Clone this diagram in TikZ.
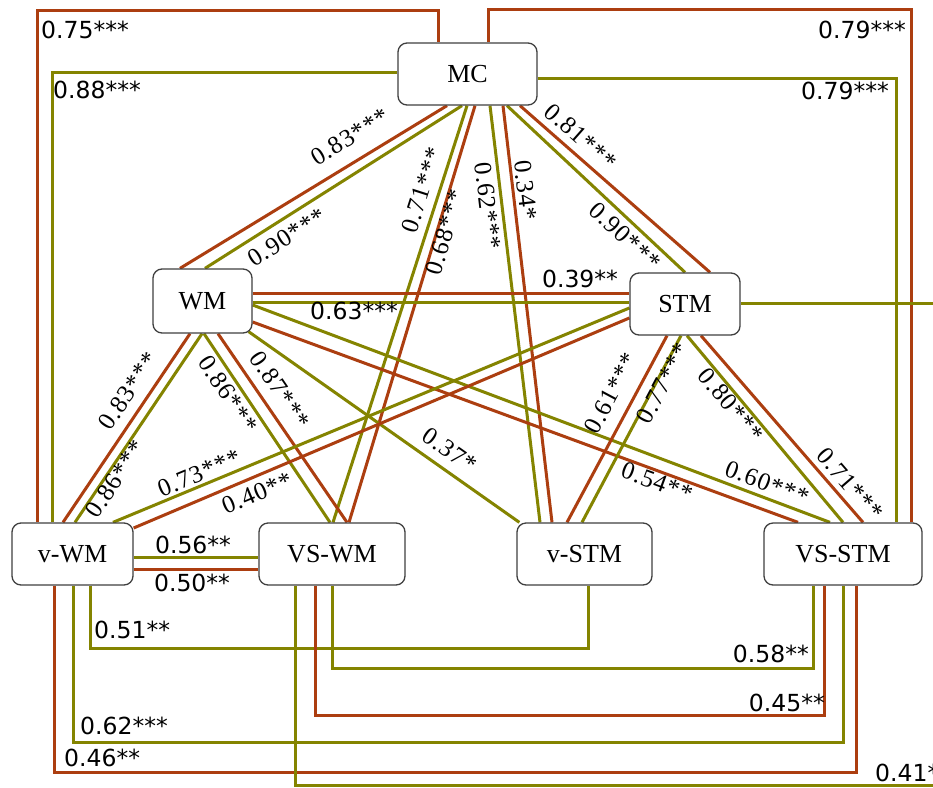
\documentclass[tikz,border=0pt]{standalone}
\usepackage{fontspec}
\setmainfont{Liberation Serif}
\newfontfamily\labfont{DejaVu Sans}
\newfontfamily\rotfont[LetterSpace=4]{Liberation Serif}
\definecolor{brn}{RGB}{172,62,16}
\definecolor{olv}{RGB}{132,132,0}
\definecolor{bord}{RGB}{64,64,64}
\pgfdeclarelayer{bg}
\pgfsetlayers{bg,main}
\begin{document}
\begin{tikzpicture}[x=1pt,y=-1pt,
  box/.style={draw=bord, line width=1.3pt, fill=white, rounded corners=9pt, inner sep=0pt, font=\fontsize{26}{28}\selectfont},
  br/.style={draw=brn, line width=3pt},
  ol/.style={draw=olv, line width=3pt},
  hl/.style={font=\labfont\fontsize{23.5}{26}\selectfont, inner sep=0pt},
  rl/.style={font=\rotfont\fontsize{25}{27}\selectfont, inner sep=0pt}]
\useasboundingbox (0,0) rectangle (933,787);
% nodes
\node[box, minimum width=139pt, minimum height=62pt] (MC) at (467.5,74) {MC};
\node[box, minimum width=99pt, minimum height=64pt] (WM) at (202.5,301) {WM};
\node[box, minimum width=110pt, minimum height=62pt] (STM) at (685,304) {STM};
\node[box, minimum width=121pt, minimum height=62pt] (vWM) at (72.5,554) {v-WM};
\node[box, minimum width=146pt, minimum height=62pt] (VSWM) at (332,554) {VS-WM};
\node[box, minimum width=135pt, minimum height=62pt] (vSTM) at (584.5,554) {v-STM};
\node[box, minimum width=158pt, minimum height=62pt] (VSSTM) at (843,554) {VS-STM};
\coordinate (stmR) at (945,303);
\coordinate (botR) at (945,785);
\begin{pgfonlayer}{bg}
\fill[white] (0,0) rectangle (933,787);
% outer loops
\draw[br] ([xshift=-35.5pt]vWM.north) -- ++(0,-512) -| ([xshift=-29.5pt]MC.north);
\draw[ol] ([xshift=-20.5pt]vWM.north) |- ([yshift=2pt]MC.west);
\draw[br] ([xshift=20.5pt]MC.north) -- ++(0,-33) -| ([xshift=68pt]VSSTM.north);
\draw[ol] ([yshift=-4pt]MC.east) -| ([xshift=53pt]VSSTM.north);
\draw[ol] ([yshift=1pt]STM.east) -- (stmR);
% MC fan
\draw[br] ([xshift=-20.5pt]MC.south) -- ([xshift=-22.5pt]WM.north);
\draw[ol] ([xshift=-5.5pt]MC.south) -- ([xshift=2.5pt]WM.north);
\draw[ol] ([xshift=-0.5pt]MC.south) -- ([xshift=1pt]VSWM.north);
\draw[br] ([xshift=7.5pt]MC.south) -- ([xshift=17pt]VSWM.north);
\draw[ol] ([xshift=22.5pt]MC.south) -- ([xshift=-44.5pt]vSTM.north);
\draw[br] ([xshift=35.5pt]MC.south) -- ([xshift=-32.5pt]vSTM.north);
\draw[ol] ([xshift=39.5pt]MC.south) -- (STM.north);
\draw[br] ([xshift=52.5pt]MC.south) -- ([xshift=25pt]STM.north);
% WM
\draw[br] ([yshift=8pt]WM.east) -- ([yshift=11pt]STM.west);
\draw[ol] ([yshift=-1pt]WM.east) -- ([yshift=2pt]STM.west);
\draw[br] ([xshift=-12.5pt]WM.south) -- ([xshift=-9.5pt]vWM.north);
\draw[ol] ([xshift=-0.5pt]WM.south) -- ([xshift=2.5pt]vWM.north);
\draw[ol] ([xshift=1.5pt]WM.south) -- ([xshift=-2pt]VSWM.north);
\draw[br] ([xshift=15.5pt]WM.south) -- ([xshift=15pt]VSWM.north);
\draw[ol] ([xshift=-4pt,yshift=2pt]WM.south east) -- ([xshift=3pt]vSTM.north west);
\draw[ol] ([yshift=-4pt]WM.east) -- ([xshift=-13pt]VSSTM.north);
\draw[br] ([yshift=-21pt]WM.east) -- ([xshift=-45pt]VSSTM.north);
% STM
\draw[ol] ([yshift=-4pt]STM.west) -- ([xshift=40.5pt]vWM.north);
\draw[br] ([yshift=-14pt]STM.west) -- ([yshift=26pt]vWM.east);
\draw[br] ([xshift=-18pt]STM.south) -- ([xshift=-17.5pt]vSTM.north);
\draw[ol] ([xshift=-4pt]STM.south) -- ([xshift=-2.5pt]vSTM.north);
\draw[ol] ([xshift=2pt]STM.south) -- (VSSTM.north);
\draw[br] ([xshift=16pt]STM.south) -- ([xshift=20pt]VSSTM.north);
% bottom
\draw[ol] ([yshift=-3pt]vWM.east) -- ([yshift=-3pt]VSWM.west);
\draw[br] ([yshift=-15pt]vWM.east) -- ([yshift=-15pt]VSWM.west);
\draw[ol] ([xshift=17.5pt]vWM.south) -- ++(0,63) -| ([xshift=3.5pt]vSTM.south);
\draw[ol] (VSWM.south) -- ++(0,83) -| ([xshift=-30pt]VSSTM.south);
\draw[br] ([xshift=-17pt]VSWM.south) -- ++(0,130) -| ([xshift=-19pt]VSSTM.south);
\draw[ol] ([xshift=0.5pt]vWM.south) -- ++(0,157) -| (VSSTM.south);
\draw[br] ([xshift=-18.5pt]vWM.south) -- ++(0,187) -| ([xshift=13pt]VSSTM.south);
\draw[ol] ([xshift=-37pt]VSWM.south) |- (botR);
\end{pgfonlayer}
% horizontal labels
\node[hl, anchor=west] (t075) at (41,30) {0.75***};
\node[hl, anchor=west] (t088) at (53,90) {0.88***};
\node[hl, anchor=east] (t079a) at (906,30) {0.79***};
\node[hl, anchor=east] (t079b) at (889,91) {0.79***};
\node[hl] (t039) at (580,279) {0.39**};
\node[hl] (t063) at (354,311) {0.63***};
\node[hl] (t056) at (193,545) {0.56**};
\node[hl] (t050) at (192,583) {0.50**};
\node[hl, anchor=west] (t051) at (94,630) {0.51**};
\node[hl, anchor=west] (t062b) at (80,726) {0.62***};
\node[hl, anchor=west] (t046) at (64,758) {0.46**};
\node[hl, anchor=east] (t058) at (809,654) {0.58**};
\node[hl, anchor=east] (t045) at (825,703) {0.45**};
\node[hl, anchor=west] (t041) at (875,773) {0.41*};
% rotated labels
\node[rl, rotate=31.6] (r083a) at (350,137) {0.83***};
\node[rl, rotate=32.5] (r090a) at (287,237) {0.90***};
\node[rl, rotate=72.2] (r071a) at (422,190) {0.71***};
\node[rl, rotate=73.2] (r068) at (445,232) {0.68***};
\node[rl, rotate=-83.2] (r062a) at (488,206) {0.62***};
\node[rl, rotate=-83.3] (r034) at (526,190) {0.34*};
\node[rl, rotate=-41.5] (r081) at (581,137) {0.81***};
\node[rl, rotate=-43.3] (r090b) at (625,236) {0.90***};
\node[rl, rotate=56.2] (r083b) at (128,391) {0.83***};
\node[rl, rotate=56.2] (r086a) at (115,479) {0.86***};
\node[rl, rotate=-56.4] (r086b) at (228,394) {0.86***};
\node[rl, rotate=-55.8] (r087) at (280,390) {0.87***};
\node[rl, rotate=22.5] (r073) at (199,473) {0.73***};
\node[rl, rotate=22.9] (r040) at (257,493) {0.40**};
\node[rl, rotate=-35.2] (r037) at (450,450) {0.37*};
\node[rl, rotate=-20.2] (r054) at (657,482) {0.54**};
\node[rl, rotate=-20.7] (r060) at (767,483) {0.60***};
\node[rl, rotate=62] (r061) at (611,393) {0.61***};
\node[rl, rotate=62] (r077) at (663,383) {0.77***};
\node[rl, rotate=-50.3] (r080) at (731,405) {0.80***};
\node[rl, rotate=-49.1] (r071b) at (850,484) {0.71***};
\end{tikzpicture}
\end{document}
